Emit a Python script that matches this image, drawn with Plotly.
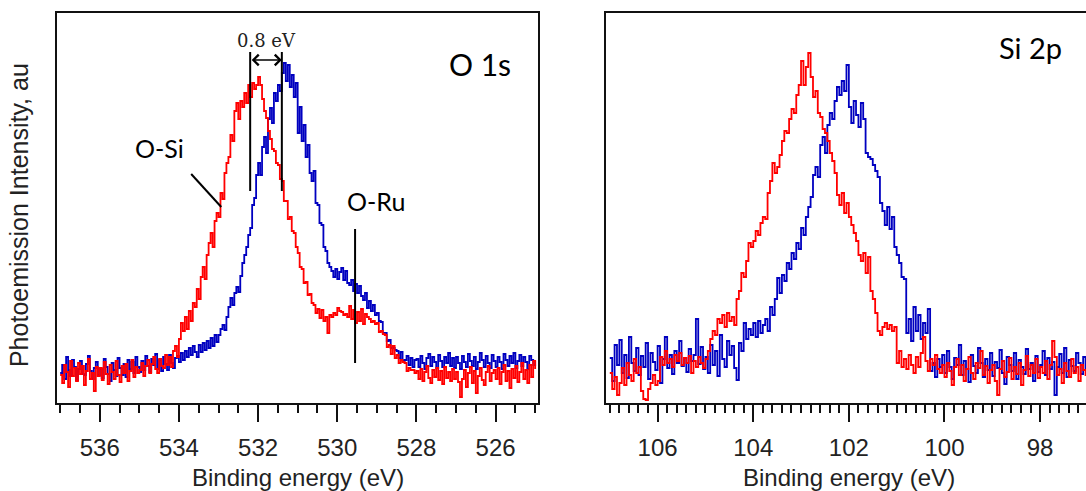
import numpy as np
import plotly.graph_objects as go

# ---------------- O 1s region (binding energy grid, eV) ----------------
o1s_energy = np.linspace(537.0, 525.0, 241)

o1s_blue = [
    30, 38, 24, 46, 33, 27, 43, 36, 23, 34, 42, 29, 28, 39, 47, 32, 24, 35, 41, 28,
    34, 25, 44, 36, 29, 22, 40, 33, 27, 45, 35, 28, 39, 26, 43, 34, 41, 30, 46, 36,
    31, 42, 33, 47, 37, 31, 44, 38, 49, 34, 43, 32, 46, 39, 33, 48, 40, 35, 45, 47,
    41, 50, 43, 52, 46, 55, 48, 57, 51, 46, 58, 51, 60, 53, 62, 55, 65, 57, 68, 61,
    68, 74, 78, 73, 86, 96, 105, 98, 110, 116, 111, 127, 140, 148, 156, 168, 175, 198, 205, 228,
    240, 228, 256, 266, 250, 284, 295, 280, 310, 302, 318, 312, 330, 340, 322, 338, 316, 328, 306, 320,
    270, 296, 262, 278, 246, 258, 230, 222, 232, 200, 198, 180, 178, 156, 152, 140, 136, 132, 126, 134,
    124, 131, 135, 123, 132, 120, 118, 123, 112, 119, 110, 117, 107, 103, 110, 95, 102, 92, 98, 88,
    90, 82, 81, 70, 70, 62, 63, 55, 55, 53, 52, 45, 51, 42, 43, 47, 38, 45, 36, 43,
    44, 36, 47, 40, 34, 45, 49, 37, 46, 41, 35, 48, 42, 36, 46, 40, 50, 37, 45, 35,
    46, 40, 34, 47, 41, 36, 49, 42, 37, 46, 34, 41, 50, 43, 36, 47, 40, 35, 48, 42,
    36, 46, 41, 34, 49, 43, 37, 47, 40, 50, 35, 42, 48, 37, 46, 41, 34, 47, 43, 38,
    42,
]

o1s_red = [
    28, 20, 38, 31, 16, 42, 27, 35, 22, 40, 29, 37, 18, 32, 44, 24, 30, 12, 36, 27,
    35, 23, 41, 29, 19, 38, 31, 24, 42, 28, 21, 37, 30, 39, 22, 32, 43, 26, 36, 30,
    33, 40, 27, 37, 43, 30, 39, 46, 34, 30, 44, 37, 35, 48, 38, 46, 36, 52, 57, 46,
    64, 80, 72, 86, 74, 92, 82, 100, 96, 114, 104, 126, 136, 124, 148, 160, 170, 156, 182, 190,
    186, 210, 204, 230, 240, 246, 268, 262, 292, 300, 284, 302, 296, 310, 300, 318, 306, 320, 314, 318,
    326, 318, 304, 292, 285, 272, 264, 254, 252, 240, 238, 224, 222, 202, 202, 184, 186, 172, 170, 156,
    150, 136, 134, 120, 121, 108, 109, 100, 98, 90, 94, 85, 93, 82, 86, 70, 88, 86, 90, 88,
    95, 92, 91, 88, 89, 86, 97, 84, 93, 80, 91, 82, 94, 79, 89, 86, 84, 81, 82, 79,
    80, 71, 72, 69, 68, 56, 58, 49, 57, 45, 48, 40, 43, 41, 40, 32, 35, 33, 33, 30,
    32, 24, 34, 22, 31, 37, 25, 20, 33, 26, 35, 23, 32, 19, 36, 25, 31, 22, 34, 24,
    31, 21, 6, 24, 33, 16, 30, 36, 20, 32, 10, 27, 35, 23, 18, 31, 37, 22, 30, 33,
    24, 35, 19, 31, 38, 22, 32, 15, 34, 25, 37, 21, 31, 40, 24, 33, 20, 38, 26, 42,
    34,
]

# ---------------- Si 2p region ----------------
si2p_energy = np.linspace(107.0, 97.0, 201)

si2p_blue = [
    45, 22, 58, 38, 63, 30, 48, 25, 66, 40, 32, 55, 28, 47, 36, 60, 24, 50, 41, 33,
    57, 20, 44, 66, 35, 48, 29, 52, 40, 62, 37, 45, 31, 54, 42, 48, 84, 39, 56, 34,
    46, 30, 58, 38, 52, 27, 68, 44, 36, 62, 48, 57, 35, 23, 60, 52, 80, 64, 74, 68,
    80, 66, 82, 70, 78, 84, 72, 96, 88, 104, 125, 110, 128, 122, 140, 134, 150, 144, 160, 154,
    175, 168, 186, 196, 206, 228, 236, 226, 258, 266, 250, 278, 290, 284, 302, 316, 308, 322, 312, 338,
    296, 280, 302, 288, 276, 300, 284, 250, 246, 244, 238, 232, 226, 200, 192, 178, 196, 174, 186, 156,
    148, 140, 126, 124, 70, 84, 62, 96, 72, 88, 64, 80, 70, 94, 32, 40, 26, 44, 36, 48,
    30, 52, 36, 24, 45, 38, 58, 28, 42, 34, 21, 48, 37, 30, 55, 40, 26, 44, 33, 50,
    27, 41, 35, 53, 30, 19, 46, 38, 32, 50, 24, 43, 36, 29, 54, 34, 40, 22, 47, 31,
    38, 52, 28, 45, 34, 41, 8, 36, 49, 30, 55, 26, 43, 37, 32, 50, 40, 29, 46, 35,
    42,
]

si2p_red = [
    30, 14, 26, 8, 20, 35, 18, 40, 28, 22, 44, 30, 36, 12, 4, 3, 14, 20, 28, 18,
    22, 46, 38, 52, 40, 44, 36, 48, 42, 50, 38, 45, 40, 47, 30, 42, 36, 46, 40, 35,
    44, 52, 64, 72, 68, 84, 80, 88, 76, 90, 82, 86, 78, 104, 112, 130, 126, 142, 160, 156,
    162, 172, 168, 180, 186, 184, 210, 222, 240, 230, 236, 248, 262, 272, 270, 284, 294, 290, 308, 318,
    342, 318, 336, 350, 326, 306, 312, 290, 286, 274, 270, 262, 250, 242, 230, 208, 198, 210, 190, 200,
    186, 178, 170, 162, 148, 142, 150, 130, 146, 112, 104, 90, 72, 68, 76, 80, 74, 78, 72, 76,
    40, 52, 36, 44, 34, 48, 38, 30, 46, 36, 50, 66, 42, 32, 44, 38, 48, 34, 30, 38,
    26, 40, 32, 18, 36, 44, 28, 38, 22, 34, 46, 30, 24, 40, 35, 52, 28, 37, 20, 33,
    38, 22, 8, 34, 42, 26, 31, 45, 24, 36, 29, 40, 18, 33, 47, 27, 38, 30, 44, 25,
    36, 30, 42, 24, 38, 62, 46, 28, 34, 20, 40, 32, 26, 44, 30, 36, 22, 38, 33, 28,
    34,
]

BLUE = "#0000c0"
RED = "#ff0000"
INK = "#111111"
SANS = "Liberation Sans, Arial, sans-serif"
LABEL = "Lato, sans-serif"

fig = go.Figure()
for xs, ys, color, xa, ya in [
    (o1s_energy, o1s_blue, BLUE, "x", "y"),
    (o1s_energy, o1s_red, RED, "x", "y"),
    (si2p_energy, si2p_blue, BLUE, "x2", "y2"),
    (si2p_energy, si2p_red, RED, "x2", "y2"),
]:
    fig.add_trace(go.Scatter(
        x=xs, y=ys, mode="lines", xaxis=xa, yaxis=ya,
        line=dict(color=color, width=1.8, shape="hv"),
        hoverinfo="skip",
    ))

def energy_axis(domain, rng, minor_step, mirror):
    return dict(
        domain=domain, range=rng, tick0=0, dtick=2,
        ticks="outside", ticklen=17, tickwidth=1.5, tickcolor=INK,
        ticklabelstandoff=5,
        minor=dict(ticks="outside", tick0=0, dtick=minor_step, ticklen=8,
                   tickwidth=1.5, tickcolor=INK),
        showline=True, linecolor=INK, linewidth=1.5, mirror=mirror,
        showgrid=False, zeroline=False,
        tickfont=dict(family=SANS, size=24, color="#222222"),
    )

def intensity_axis(anchor, mirror):
    return dict(
        anchor=anchor, range=[0, 390], showticklabels=False, ticks="",
        showline=True, linecolor=INK, linewidth=1.5, mirror=mirror,
        showgrid=False, zeroline=False,
    )

fig.update_layout(
    width=1086, height=491,
    margin=dict(l=57, r=0, t=13, b=88),
    paper_bgcolor="white", plot_bgcolor="white",
    showlegend=False,
    xaxis=energy_axis([0, 0.4674], [537.08, 524.93], 0.5, True),
    xaxis2=dict(energy_axis([0.5335, 1.0], [107.08, 97.04], 0.2, True), anchor="y2"),
    yaxis=intensity_axis("x", True),
    yaxis2=intensity_axis("x2", False),
)

# Peak-position markers and pointer lines in the O 1s panel
line_style = dict(color="black", width=2)
for x0, y0, x1, y1 in [
    (532.2, 212, 532.2, 351),
    (531.4, 212, 531.4, 351),
    (529.55, 40, 529.55, 174),
    (533.69, 229, 532.93, 196),
]:
    fig.add_shape(type="line", xref="x", yref="y", x0=x0, y0=y0, x1=x1, y1=y1,
                  line=line_style)

# Double-headed arrow spanning the 0.8 eV shift
fig.add_annotation(
    x=531.4, y=343, ax=532.2, ay=343, xref="x", yref="y", axref="x", ayref="y",
    text="", showarrow=True, arrowside="end+start", arrowhead=4,
    arrowsize=1.3, arrowwidth=1.6, arrowcolor="black", standoff=0, startstandoff=0,
)

texts = [
    dict(x=531.78, y=363, xref="x", yref="y", text="0.8 eV",
         font=dict(family="DejaVu Serif, serif", size=18, color="#222222")),
    dict(x=526.39, y=339, xref="x", yref="y", text="O 1s",
         font=dict(family=LABEL, size=30, color="black")),
    dict(x=534.5, y=255, xref="x", yref="y", text="O-Si",
         font=dict(family=LABEL, size=25, color="black")),
    dict(x=529.02, y=202, xref="x", yref="y", text="O-Ru",
         font=dict(family=LABEL, size=25, color="black")),
    dict(x=98.21, y=356, xref="x2", yref="y2", text="Si 2p",
         font=dict(family=LABEL, size=29, color="black")),
    dict(x=0.2342, y=-0.1923, xref="paper", yref="paper", text="Binding energy (eV)",
         font=dict(family=SANS, size=24, color="#222222")),
    dict(x=0.7697, y=-0.1923, xref="paper", yref="paper", text="Binding energy (eV)",
         font=dict(family=SANS, size=24, color="#222222")),
    dict(x=-0.0369, y=0.482, xref="paper", yref="paper", text="Photoemission Intensity, au",
         textangle=-90, font=dict(family=SANS, size=25, color="#222222")),
]
for t in texts:
    fig.add_annotation(showarrow=False, xanchor="center", yanchor="middle", **t)

fig.write_html("out.html")
